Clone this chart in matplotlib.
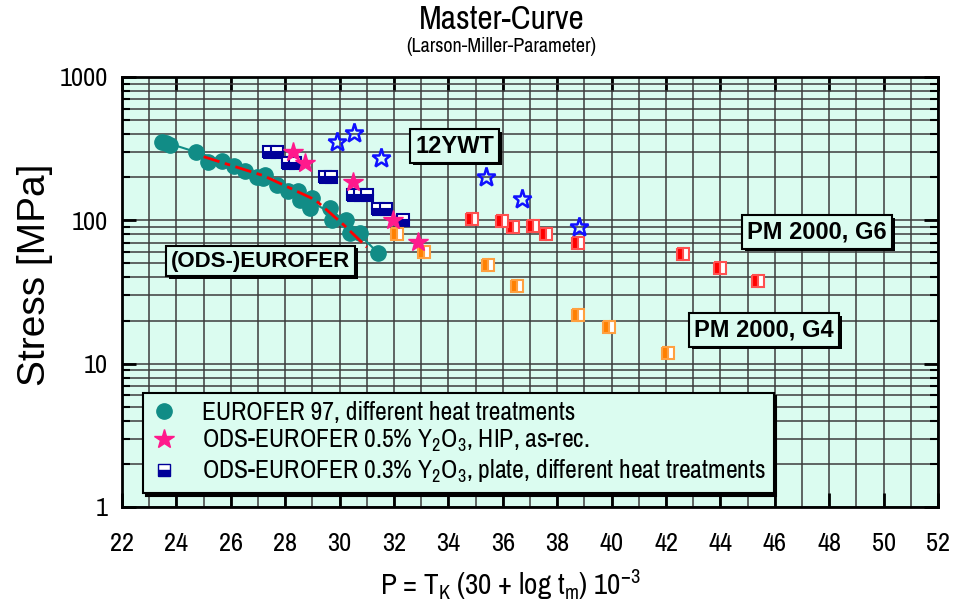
import numpy as np
import matplotlib
matplotlib.use('Agg')
import matplotlib.pyplot as plt
from matplotlib.lines import Line2D
from matplotlib.ticker import LogLocator, NullFormatter, MultipleLocator
import matplotlib.patheffects as pe

plt.rcParams['font.family'] = ['Archivo Narrow', 'Liberation Sans', 'DejaVu Sans']
plt.rcParams['mathtext.default'] = 'regular'

# EUROFER 97, different heat treatments
eurofer_p = [23.46, 23.76, 23.6, 24.72, 25.17, 25.67, 26.12, 26.52, 26.95, 27.26, 27.19, 27.69,
             28.11, 28.48, 28.54, 28.97, 28.91, 29.65, 29.71, 30.24, 30.38, 30.75, 31.42]
eurofer_s = [354, 336, 345, 299, 257, 261, 240, 222, 202, 207, 197, 177,
             159, 161, 139, 143, 121, 121, 100, 101, 81, 81, 59.5]
eurofer_fit_p = [23.4, 25.0, 26.5, 28.0, 29.5, 30.5, 31.5]
eurofer_fit_s = [360, 288, 228, 168, 118, 88, 57]

# ODS-EUROFER fit (red dash-dot)
ods_fit_p = [25.0, 27.2, 29.1, 30.15, 31.0]
ods_fit_s = [278, 205, 139, 93, 65]

# ODS-EUROFER 0.5% Y2O3, HIP, as-rec.
ods05_p = [28.27, 28.73, 30.5, 31.97, 32.9]
ods05_s = [302, 250, 186, 100, 71]

# ODS-EUROFER 0.3% Y2O3, plate
ods03_p = [27.4, 27.7, 28.1, 28.35, 29.45, 29.7, 30.5, 30.75, 31.0, 31.4, 31.7, 32.32]
ods03_s = [302, 302, 250, 250, 199, 199, 150, 150, 150, 120, 120, 100]

# 12YWT
ywt_p = [29.92, 30.53, 31.51, 35.37, 36.69, 38.8]
ywt_s = [354, 405, 274, 199, 140, 90]

# PM 2000, G6
g6_p = [34.86, 35.98, 36.38, 37.1, 37.58, 38.76, 42.61, 43.99, 45.37]
g6_s = [102, 99.5, 90, 92, 80, 69, 58, 46.8, 37.9]

# PM 2000, G4
g4_p = [32.12, 33.11, 35.45, 36.52, 38.75, 39.91, 42.08]
g4_s = [80, 59.9, 48.8, 34.9, 21.9, 17.9, 11.9]

bg = '#dbfcf0'
teal = '#118c86'
pink = '#ff1a8c'
navy = '#000099'

fig = plt.figure(figsize=(9.55, 6.14), dpi=100)
ax = fig.add_axes([0.12775, 0.17427, 0.8545, 0.70033])
ax.set_facecolor(bg)
ax.set_yscale('log')
ax.set_xlim(22, 52)
ax.set_ylim(1, 1000)

ax.xaxis.set_major_locator(MultipleLocator(2))
ax.xaxis.set_minor_locator(MultipleLocator(1))
ax.set_yticks([1, 10, 100, 1000])
ax.set_yticklabels(['1', '10', '100', '1000'])
ax.yaxis.set_minor_locator(LogLocator(base=10, subs=range(2, 10)))
ax.yaxis.set_minor_formatter(NullFormatter())

ax.set_axisbelow(True)
ax.grid(which='both', color='#3c3c3c', lw=1.1)
ax.tick_params(which='major', direction='in', length=10, width=2, top=True, right=True,
               labelsize=19)
ax.tick_params(which='minor', direction='in', length=6, width=1.5, top=True, right=True)
ax.tick_params(axis='x', which='minor', length=0)
ax.tick_params(axis='x', which='major', pad=18)
ax.tick_params(axis='y', which='major', pad=10)
for sp in ax.spines.values():
    sp.set_linewidth(2)

ax.plot(eurofer_fit_p, eurofer_fit_s, '-', color=teal, lw=1.5, zorder=2)
ax.plot(eurofer_p, eurofer_s, 'o', color=teal, ms=11, zorder=3)
ax.plot(ods_fit_p, ods_fit_s, ls=(0, (6, 2, 2, 2)), color='red', lw=2, zorder=4)

sq = dict(marker='s', ls='none', ms=9, markerfacecoloralt='white', zorder=5)
ax.plot(ods03_p, ods03_s, fillstyle='bottom', color=navy, mec=navy, mew=1.5, **sq)
ax.plot(g6_p, g6_s, fillstyle='left', color='red', mec='#ff5050', mew=1.5, **sq)
ax.plot(g4_p, g4_s, fillstyle='left', color='#ff8000', mec='#ffa040', mew=1.5, **sq)
ax.plot(ods05_p, ods05_s, '*', color=pink, ms=15, ls='none', zorder=6)
ax.plot(ywt_p, ywt_s, '*', ls='none', ms=14, mfc='none', mec='#1010ff', mew=1.8, zorder=6)

def label_box(x, y, s, size):
    t = ax.text(x, y, s, ha='center', va='center', fontsize=size, fontweight='bold', zorder=7,
                family=['Liberation Sans', 'DejaVu Sans'],
                bbox=dict(boxstyle='square,pad=0.22', fc=bg, ec='black', lw=1.5))
    t.get_bbox_patch().set_path_effects([
        pe.withSimplePatchShadow(offset=(2, -2), shadow_rgbFace='black', alpha=1)])

label_box(34.23, 330, '12YWT', 17)
label_box(27.1, 52, '(ODS-)EUROFER', 16)
label_box(47.55, 83, 'PM 2000, G6', 17)
label_box(45.6, 17.2, 'PM 2000, G4', 17)

handles = [
    Line2D([], [], marker='o', ls='none', color=teal, ms=11),
    Line2D([], [], marker='*', ls='none', color=pink, ms=15),
    Line2D([], [], marker='s', ls='none', ms=9, fillstyle='bottom', color=navy,
           mec=navy, markerfacecoloralt='white'),
]
labels = [
    'EUROFER 97, different heat treatments',
    r'ODS-EUROFER 0.5% Y$_{2}$O$_{3}$, HIP, as-rec.',
    r'ODS-EUROFER 0.3% Y$_{2}$O$_{3}$, plate, different heat treatments',
]
leg = ax.legend(handles, labels, loc='lower left', bbox_to_anchor=(0.0257, 0.0326),
                borderaxespad=0, fontsize=18.5, frameon=True, fancybox=False,
                facecolor=bg, edgecolor='black', framealpha=1, handlelength=1,
                handletextpad=1.0, borderpad=0.3, labelspacing=0.15,
                shadow={'color': 'black', 'alpha': 1})
leg.get_frame().set_linewidth(1.5)
leg.set_zorder(8)

fig.text(0.525, 0.967, 'Master-Curve', ha='center', va='center', fontsize=24)
fig.text(0.525, 0.925, '(Larson-Miller-Parameter)', ha='center', va='center', fontsize=14.5)
fig.text(0.534, 0.047, r'P = T$_{K}$ (30 + log t$_{m}$) 10$^{-3}$', ha='center', va='center',
         fontsize=21)
fig.text(0.037, 0.552, 'Stress [MPa]', ha='center', va='center', rotation=90, fontsize=28,
         family=['Liberation Sans', 'DejaVu Sans'])

fig.savefig('out.png', dpi=100)
